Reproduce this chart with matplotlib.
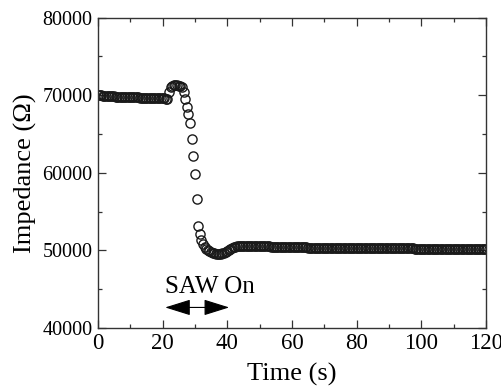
import matplotlib
matplotlib.use("Agg")
import matplotlib.pyplot as plt
import numpy as np
from matplotlib.ticker import MultipleLocator

# sampling grid of the measurement (0.5 s steps)
time_s = np.arange(0, 120.5, 0.5)

# impedance, one row = 5 s
impedance = [
    70000, 69980, 69960, 69940, 69920, 69900, 69885, 69870, 69855, 69840,
    69830, 69820, 69810, 69800, 69790, 69780, 69770, 69760, 69750, 69740,
    69730, 69720, 69715, 69710, 69700, 69695, 69690, 69680, 69675, 69670,
    69660, 69655, 69650, 69645, 69640, 69635, 69630, 69625, 69620, 69615,
    69610, 69600, 69560, 69450, 70390, 71000, 71200, 71270, 71280, 71260,
    71200, 71120, 71040, 70390, 69450, 68460, 67520, 66370, 64310, 62160,
    59810, 56550, 53120, 52090, 51300, 50800, 50450, 50200, 50000, 49850,
    49750, 49680, 49620, 49580, 49560, 49560, 49580, 49620, 49700, 49800,
    49920, 50050, 50180, 50300, 50390, 50460, 50510, 50550, 50580, 50600,
    50610, 50620, 50620, 50620, 50615, 50610, 50600, 50590, 50580, 50570,
    50560, 50550, 50540, 50530, 50520, 50510, 50500, 50490, 50480, 50470,
    50465, 50460, 50450, 50445, 50440, 50435, 50430, 50425, 50420, 50415,
    50410, 50405, 50400, 50395, 50390, 50385, 50380, 50375, 50370, 50365,
    50360, 50358, 50355, 50352, 50350, 50347, 50345, 50342, 50340, 50337,
    50335, 50332, 50330, 50328, 50325, 50322, 50320, 50318, 50315, 50312,
    50310, 50308, 50306, 50304, 50302, 50300, 50298, 50296, 50294, 50292,
    50290, 50288, 50286, 50284, 50282, 50280, 50278, 50276, 50274, 50272,
    50270, 50268, 50266, 50264, 50262, 50260, 50258, 50256, 50254, 50252,
    50250, 50249, 50248, 50247, 50246, 50245, 50244, 50243, 50242, 50241,
    50240, 50239, 50238, 50237, 50236, 50235, 50234, 50233, 50232, 50231,
    50230, 50229, 50228, 50228, 50227, 50226, 50225, 50225, 50224, 50223,
    50222, 50222, 50221, 50220, 50220, 50219, 50218, 50218, 50217, 50216,
    50216, 50215, 50214, 50214, 50213, 50212, 50212, 50211, 50210, 50210,
    50209, 50208, 50208, 50207, 50206, 50206, 50205, 50204, 50204, 50203,
    50202,
]

saw_on = (20.8, 40.6)   # arrow span, s
saw_label = "SAW On"

plt.rcParams["font.family"] = ["Liberation Serif", "DejaVu Serif"]

fig = plt.figure(figsize=(5.02, 3.89), dpi=100)
ax = fig.add_axes([0.195, 0.157, 0.773, 0.798])

ax.plot(time_s, impedance, "o", ms=6.6, mfc="none", mec="#1a1a1a", mew=1.0)

ax.annotate("", xy=(saw_on[0], 42640), xytext=(saw_on[1], 42640),
            arrowprops=dict(arrowstyle="<|-|>,head_length=1.6,head_width=0.5",
                            mutation_scale=10, color="black", lw=0.8,
                            shrinkA=0, shrinkB=0))
ax.text(saw_on[0], 44437, saw_label, fontsize=18, ha="left", va="baseline")

ax.set_xlim(0, 120)
ax.set_ylim(40000, 80000)
ax.xaxis.set_major_locator(MultipleLocator(20))
ax.xaxis.set_minor_locator(MultipleLocator(10))
ax.yaxis.set_major_locator(MultipleLocator(10000))
ax.yaxis.set_minor_locator(MultipleLocator(5000))
ax.tick_params(which="both", direction="in", top=True, right=True,
               width=0.9, color="#333333")
ax.tick_params(axis="x", labelsize=16.5, pad=4)
ax.tick_params(axis="y", labelsize=14.5, pad=4)
ax.tick_params(which="major", length=6)
ax.tick_params(which="minor", length=3)
for s in ax.spines.values():
    s.set_linewidth(1.0)
    s.set_color("#333333")

ax.set_xlabel("Time (s)", fontsize=19, labelpad=6)
ax.set_ylabel("Impedance (Ω)", fontsize=19, labelpad=4)

fig.savefig("out.png", dpi=100)
